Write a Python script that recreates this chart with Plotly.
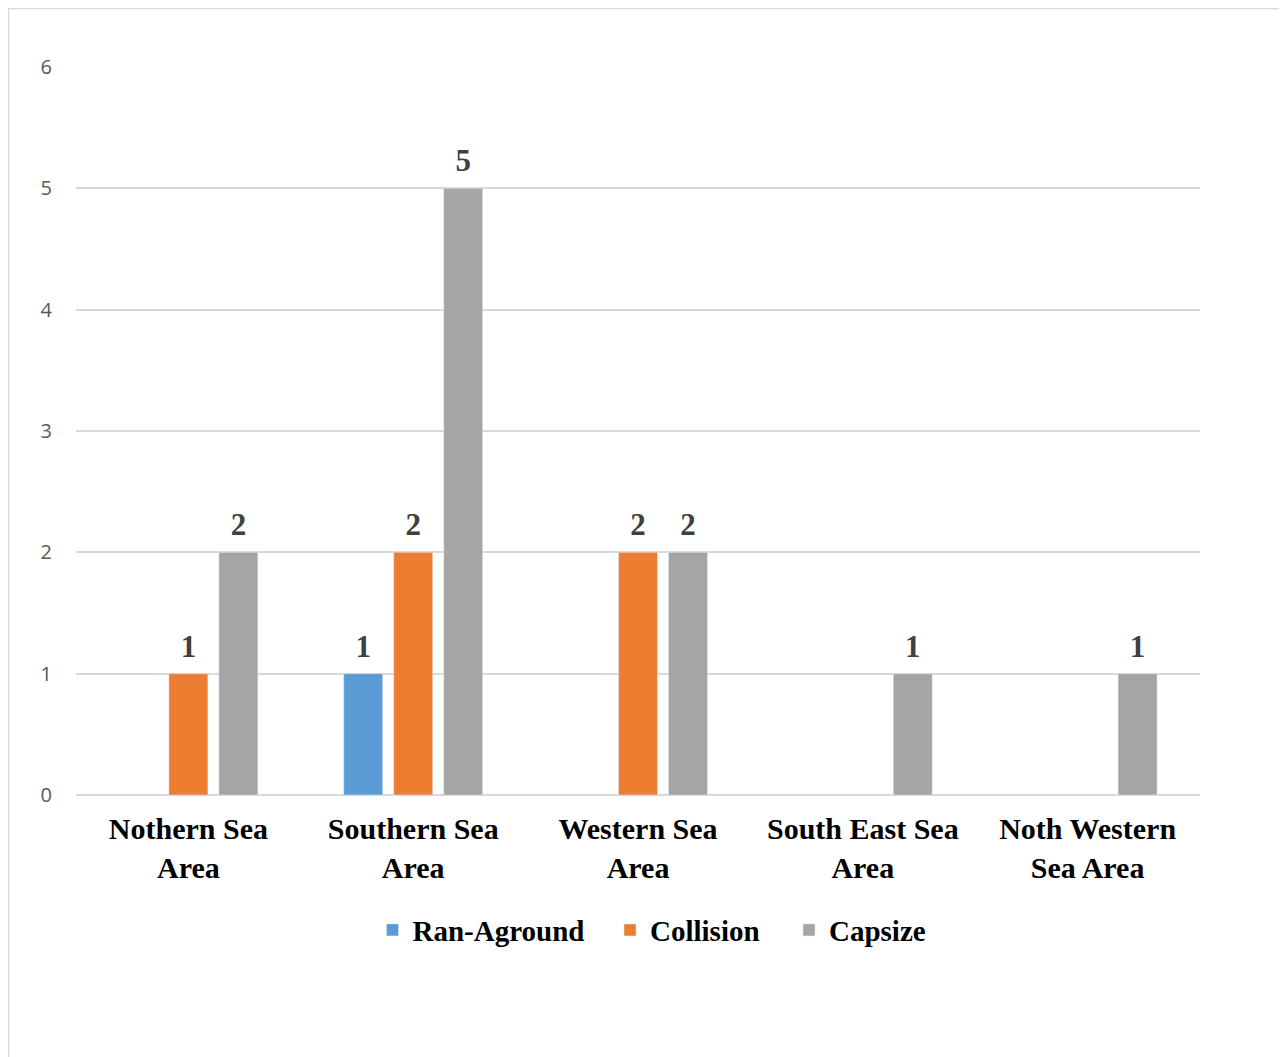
import plotly.graph_objects as go

categories = ["Nothern Sea<br>Area", "Southern Sea<br>Area", "Western Sea<br>Area",
              "South East Sea<br>Area", "Noth Western<br>Sea Area"]
ran_aground = [None, 1, None, None, None]
collision = [1, 2, 2, None, None]
capsize = [2, 5, 2, 1, 1]

series = [("Ran-Aground", ran_aground, "#5b9bd5"),
          ("Collision", collision, "#ed7d31"),
          ("Capsize", capsize, "#a5a5a5")]

serif = "Liberation Serif"
legend_names = ["legend", "legend2", "legend3"]

fig = go.Figure()
for (name, vals, col), lg in zip(series, legend_names):
    fig.add_trace(go.Bar(
        x=categories, y=vals, name=name, marker_color=col, legend=lg,
        offsetgroup=name, hoverinfo="skip",
    ))
for name, vals, col in series:
    fig.add_trace(go.Scatter(
        x=categories, y=vals, mode="markers+text", text=vals,
        textposition="top center", offsetgroup=name, showlegend=False,
        marker=dict(size=13, color="rgba(0,0,0,0)"), cliponaxis=False,
        textfont=dict(family=serif, size=31, color="#404040", weight="bold"),
        hoverinfo="skip",
    ))

W, H = 1287, 1057
L, R, T, B = 68, 1192, 59, 787


def px(xf):
    return (xf - L) / (R - L)


def py(yf):
    return (B - yf) / (B - T)


leg_font = dict(family=serif, size=29, color="#000000", weight="bold")
leg_y = -0.1855
legend_common = dict(y=leg_y, yanchor="middle", xanchor="left", font=leg_font,
                     bgcolor="rgba(0,0,0,0)", itemwidth=30)

fig.update_layout(
    width=W, height=H,
    margin=dict(l=L, r=W - R, t=T, b=H - B),
    paper_bgcolor="white", plot_bgcolor="white",
    barmode="group", bargap=0.333, bargroupgap=0.22,
    scattermode="group", scattergap=0.333,
    showlegend=True,
    legend=dict(x=px(364.5), **legend_common),
    legend2=dict(x=px(602), **legend_common),
    legend3=dict(x=px(781), **legend_common),
    xaxis=dict(showgrid=False, showline=False, ticks="", zeroline=False,
               ticklabelstandoff=13,
               tickfont=dict(family=serif, size=30, color="#000000", weight="bold")),
    yaxis=dict(range=[0, 6], dtick=1, showgrid=True, gridcolor="#d9d9d9", gridwidth=1.5,
               zeroline=True, zerolinecolor="#d9d9d9", zerolinewidth=1.5, showline=False,
               ticks="", ticklabelstandoff=23,
               tickfont=dict(family="Open Sans", size=20, color="#595959")),
    shapes=[dict(type="rect", xref="paper", yref="paper",
                 x0=px(0), x1=px(1320), y0=py(1090), y1=py(0),
                 line=dict(color="#d9d9d9", width=2.5), layer="below")],
)
fig.write_html("out.html")
